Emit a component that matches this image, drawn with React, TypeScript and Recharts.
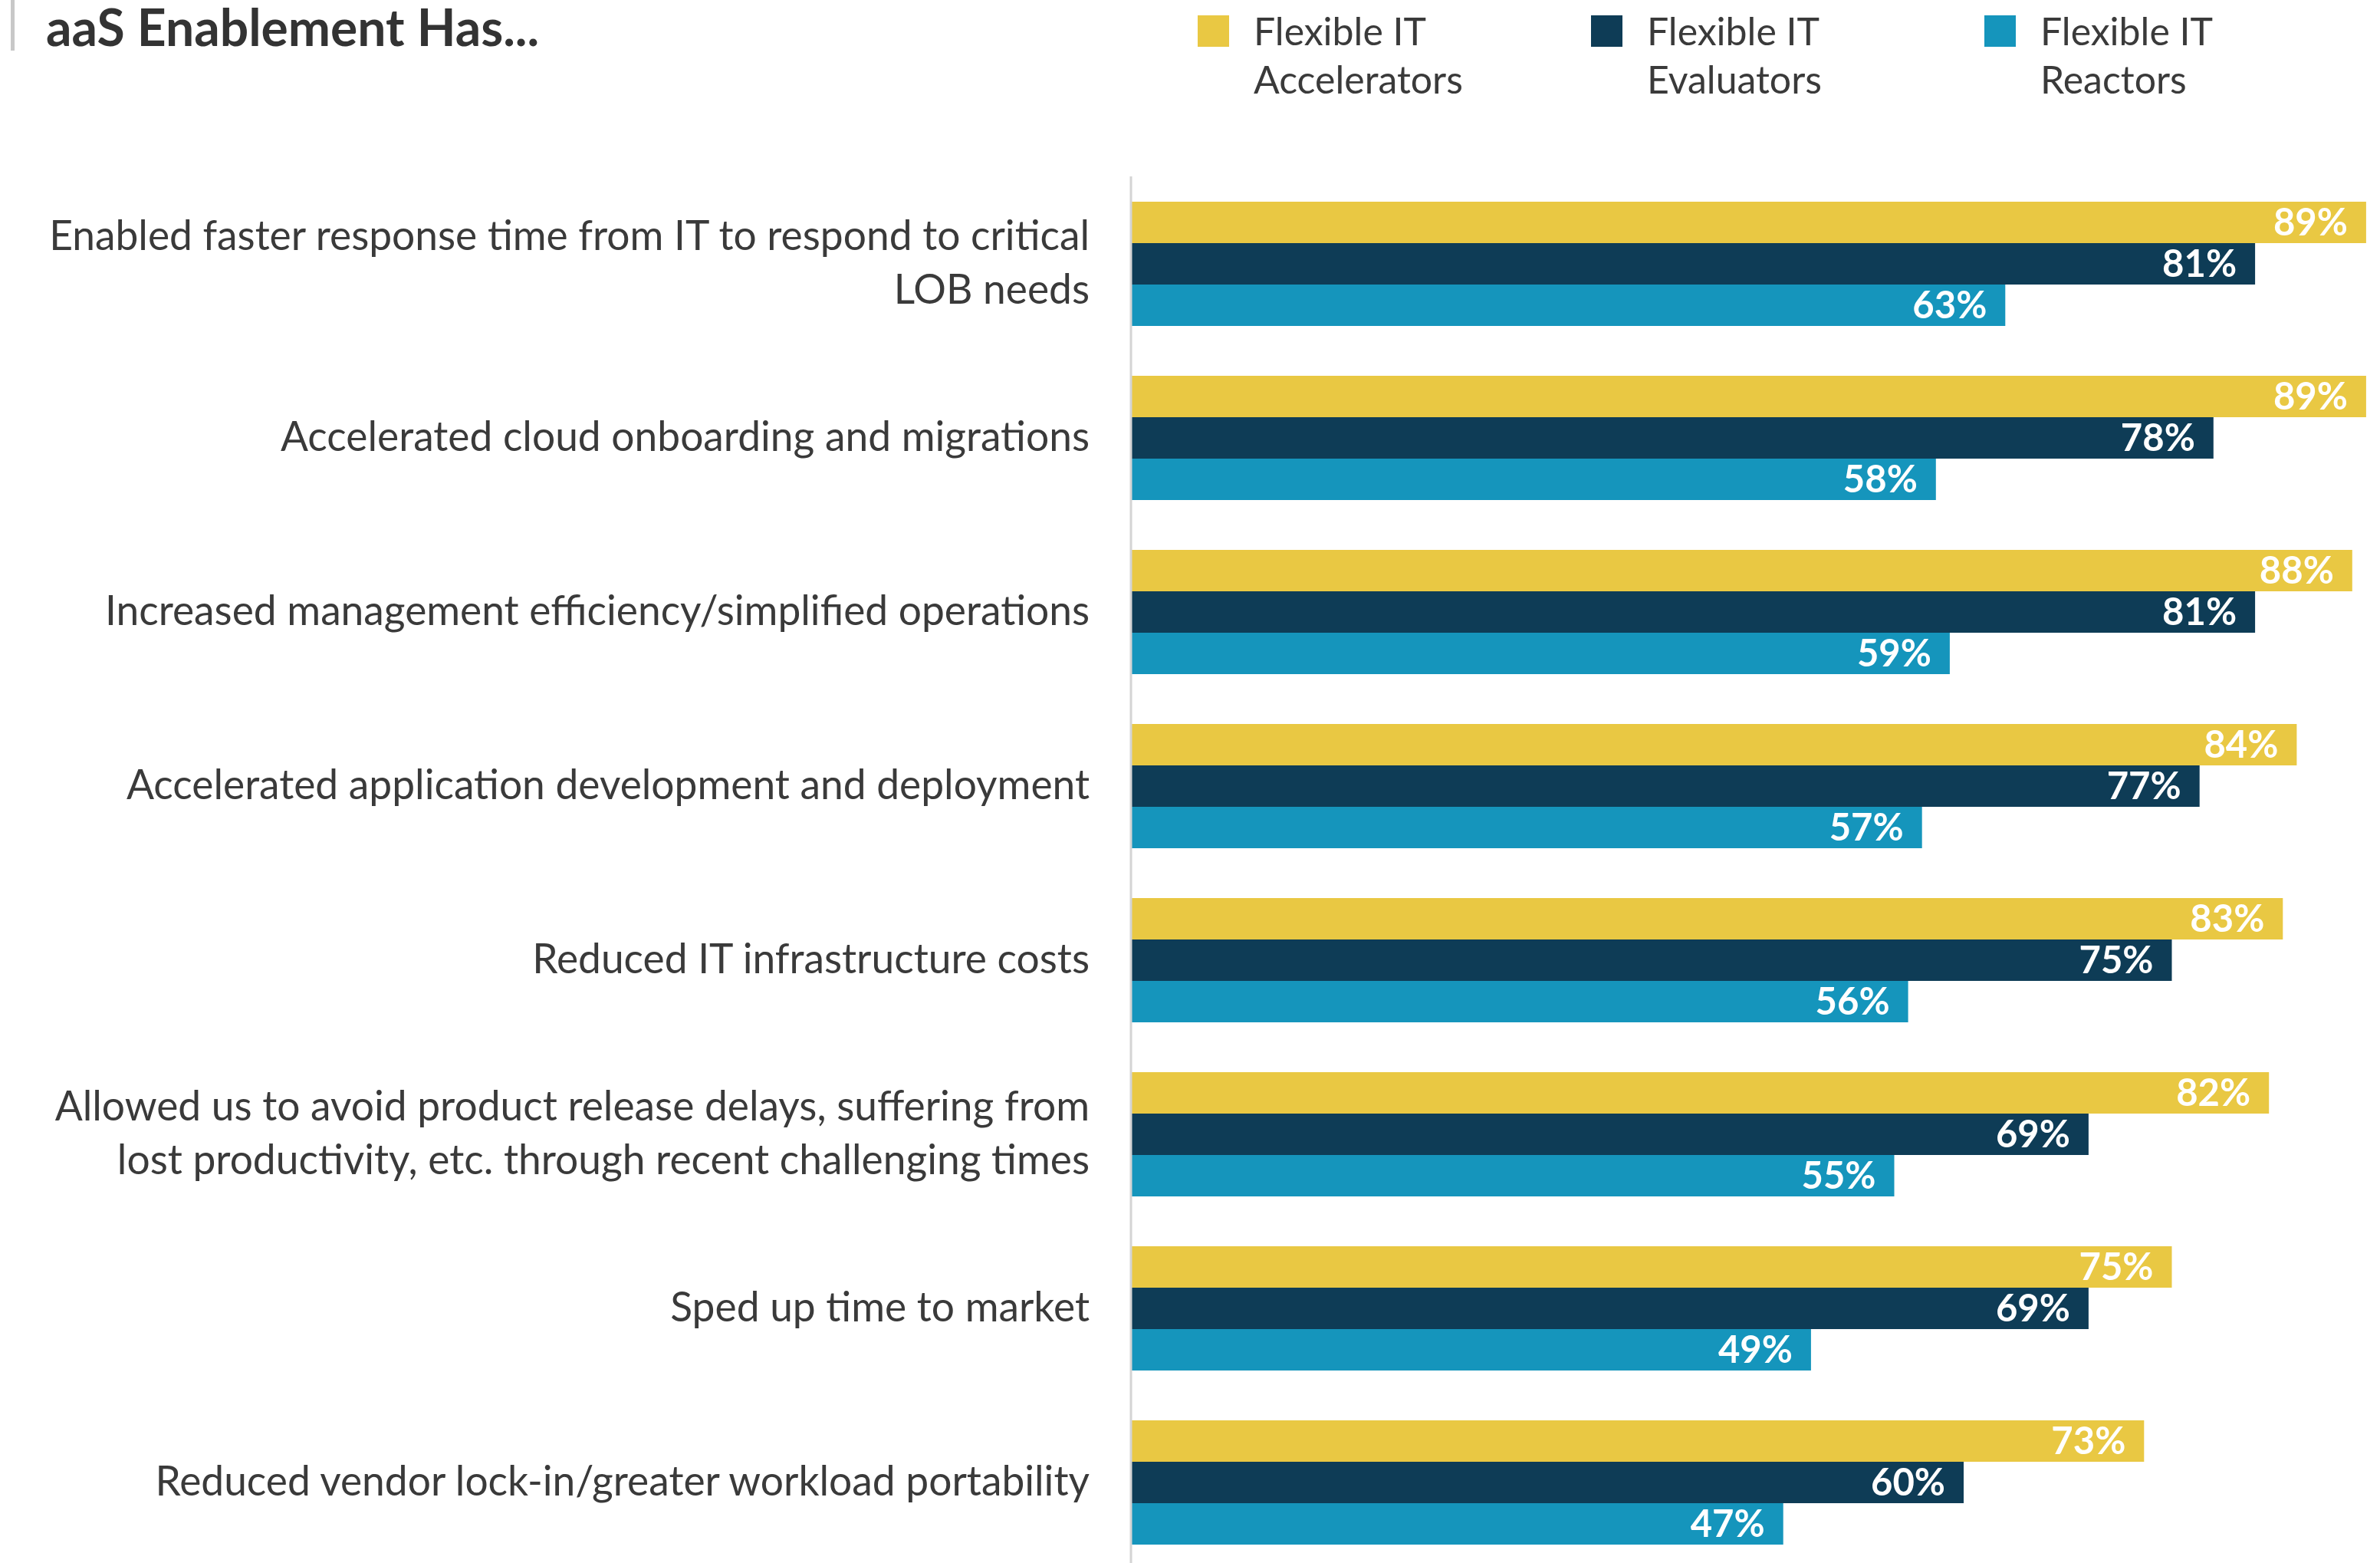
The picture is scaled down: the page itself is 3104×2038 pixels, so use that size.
import React from "react";
import { Bar, BarChart, LabelList, XAxis, YAxis } from "recharts";

const categories = [
  "Enabled faster response time from IT to respond to critical\nLOB needs",
  "Accelerated cloud onboarding and migrations",
  "Increased management efficiency/simplified operations",
  "Accelerated application development and deployment",
  "Reduced IT infrastructure costs",
  "Allowed us to avoid product release delays, suffering from\nlost productivity, etc. through recent challenging times",
  "Sped up time to market",
  "Reduced vendor lock-in/greater workload portability",
];

const accelerators = [89, 89, 88, 84, 83, 82, 75, 73];
const evaluators = [81, 78, 81, 77, 75, 69, 69, 60];
const reactors = [63, 58, 59, 57, 56, 55, 49, 47];

const seriesNames = [
  "Flexible IT\nAccelerators",
  "Flexible IT\nEvaluators",
  "Flexible IT\nReactors",
];
const seriesColors = ["#E9C843", "#0E3C56", "#1595BC"];

const data = categories.map((name, i) => ({
  name,
  accelerators: accelerators[i],
  evaluators: evaluators[i],
  reactors: reactors[i],
}));

const FONT = "Lato, 'Open Sans', sans-serif";
const TEXT = "#3a3a3a";

function CategoryTick(props: any) {
  const { x, y, payload } = props;
  const lines = String(payload.value).split("\n");
  const lineHeight = 70;
  const startY = y - 4 - ((lines.length - 1) * lineHeight) / 2;
  return (
    <text
      x={x - 46}
      y={startY}
      textAnchor="end"
      dominantBaseline="central"
      fill={TEXT}
      fontSize={53.3}
      fontFamily={FONT}
    >
      {lines.map((line, i) => (
        <tspan key={i} x={x - 46} y={startY + i * lineHeight}>
          {line}
        </tspan>
      ))}
    </text>
  );
}

const pct = (v: any) => `${v}%`;

const labelProps = {
  position: "insideRight" as const,
  offset: 24,
  formatter: pct,
  fill: "#fff",
  fontSize: 49,
  fontWeight: 700,
  fontFamily: FONT,
};

export default function App() {
  return (
    <div
      style={{
        position: "absolute",
        left: 0,
        top: 0,
        width: 3104,
        height: 2038,
        overflow: "hidden",
        background: "#fff",
        fontFamily: FONT,
      }}
    >
      <div
        style={{
          position: "absolute",
          left: 14,
          top: 0,
          width: 5,
          height: 66,
          background: "#c8c8c8",
        }}
      />
      <div
        style={{
          position: "absolute",
          left: 60,
          top: 0,
          fontSize: 66,
          lineHeight: "70px",
          fontWeight: 700,
          color: "#333",
          whiteSpace: "nowrap",
        }}
      >
        aaS Enablement Has...
      </div>

      {seriesNames.map((name, i) => (
        <div
          key={name}
          style={{
            position: "absolute",
            left: 1562 + i * 513,
            top: 20,
            display: "flex",
            alignItems: "flex-start",
          }}
        >
          <div style={{ width: 41, height: 41, background: seriesColors[i] }} />
          <div
            style={{
              marginLeft: 32,
              marginTop: -11,
              fontSize: 50,
              lineHeight: "63px",
              color: TEXT,
              whiteSpace: "pre",
            }}
          >
            {name}
          </div>
        </div>
      ))}

      <div style={{ position: "absolute", left: 0, top: 0 }}>
        <BarChart
          width={3104}
          height={2046}
          data={data}
          layout="vertical"
          margin={{ top: 230, right: 0, bottom: 0, left: 0 }}
          barGap={0}
          barSize={54}
        >
          <XAxis type="number" domain={[0, 90]} hide />
          <YAxis
            type="category"
            dataKey="name"
            width={1475}
            tick={<CategoryTick />}
            tickLine={false}
            axisLine={{ stroke: "#d4d4d4", strokeWidth: 3 }}
            interval={0}
          />
          <Bar dataKey="accelerators" fill={seriesColors[0]} isAnimationActive={false}>
            <LabelList dataKey="accelerators" {...labelProps} />
          </Bar>
          <Bar dataKey="evaluators" fill={seriesColors[1]} isAnimationActive={false}>
            <LabelList dataKey="evaluators" {...labelProps} />
          </Bar>
          <Bar dataKey="reactors" fill={seriesColors[2]} isAnimationActive={false}>
            <LabelList dataKey="reactors" {...labelProps} />
          </Bar>
        </BarChart>
      </div>
    </div>
  );
}
